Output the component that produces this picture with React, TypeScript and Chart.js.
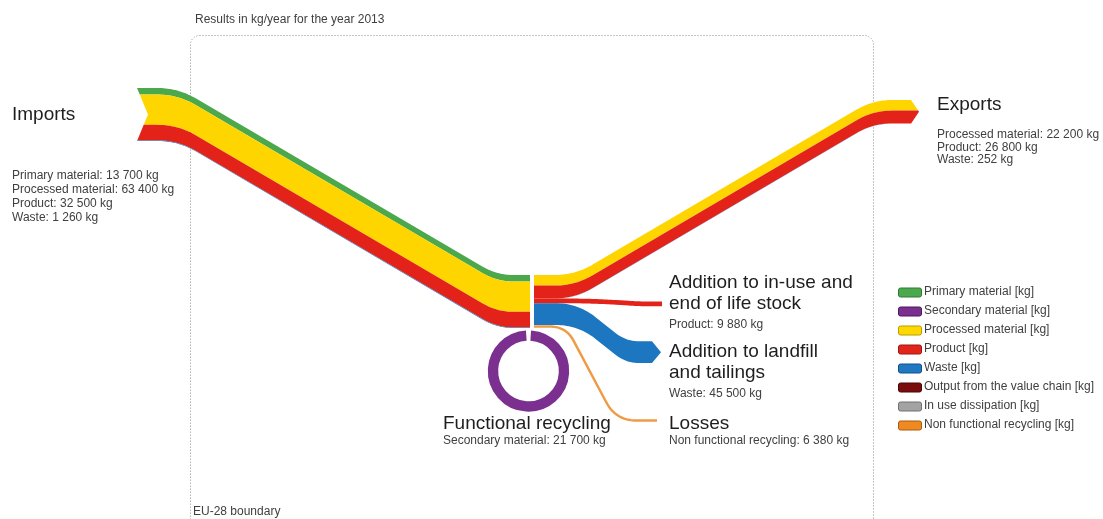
import React, { useEffect, useRef } from 'react';
import { Chart, registerables } from 'chart.js';

Chart.register(...registerables);

// ---------------- DATA ----------------
const titleText = 'Results in kg/year for the year 2013';
const boundaryText = 'EU-28 boundary';

const importCategories = ['Primary material', 'Processed material', 'Product', 'Waste'];
const importValues = [13700, 63400, 32500, 1260];

const exportCategories = ['Processed material', 'Product', 'Waste'];
const exportValues = [22200, 26800, 252];

const stockCategory = 'Product';
const stockValue = 9880;
const landfillCategory = 'Waste';
const landfillValue = 45500;
const lossesCategory = 'Non functional recycling';
const lossesValue = 6380;
const recyclingCategory = 'Secondary material';
const recyclingValue = 21700;

const legendLabels = [
  'Primary material [kg]',
  'Secondary material [kg]',
  'Processed material [kg]',
  'Product [kg]',
  'Waste [kg]',
  'Output from the value chain [kg]',
  'In use dissipation [kg]',
  'Non functional recycling [kg]',
];
const legendColors = ['#4ca84c', '#7b2f8f', '#ffd800', '#e2251b', '#1f78c1', '#7a0c0c', '#a3a3a3', '#ef8a22'];
const legendBorders = ['#2f7d32', '#4d1a5c', '#b89c00', '#9c1710', '#12508a', '#4a0505', '#707070', '#a85a10'];

const flowColors: Record<string, string> = {
  'Primary material': '#4ca84c',
  'Secondary material': '#7b2f8f',
  'Processed material': '#ffd500',
  'Product': '#e3231a',
  'Waste': '#1c76c0',
  'Non functional recycling': '#ef9a45',
};

// ---------------- LAYOUT (chart units) ----------------
const W = 1103;
const H = 519;
const FONT = '"Liberation Sans", Arial, sans-serif';
const KG_TO_UNITS = 53 / 110860; // vertical band thickness per kg
const IMPORT_ROUTE: number[][] = [[137, 88], [178, 88], [497, 275], [530, 275]];
const EXPORT_ROUTE: number[][] = [[534, 275], [575, 275], [873, 100], [911, 100]];
const STOCK_ROUTE: number[][] = [[534, 0], [592, 0], [640, 3], [662, 3]];
const LANDFILL_ROUTE: number[][] = [[534, 0], [578, 0], [626, 38], [652, 38]];
const LOSSES_ROUTE: number[][] = [[534, 0], [566, 0], [616, 94], [657, 94]];
const RING = { cx: 528.5, cy: 371, r: 35.5 };

function roundedPath(pts: number[][], r: number): number[][] {
  const out: number[][] = [pts[0]];
  for (let i = 1; i < pts.length - 1; i++) {
    const [px, py] = pts[i - 1];
    const [cx, cy] = pts[i];
    const [nx, ny] = pts[i + 1];
    const d1 = Math.hypot(cx - px, cy - py);
    const d2 = Math.hypot(nx - cx, ny - cy);
    const rr = Math.min(r, d1 / 2, d2 / 2);
    const ax = cx - ((cx - px) / d1) * rr, ay = cy - ((cy - py) / d1) * rr;
    const bx = cx + ((nx - cx) / d2) * rr, by = cy + ((ny - cy) / d2) * rr;
    for (let k = 0; k <= 20; k++) {
      const t = k / 20;
      const u = 1 - t;
      out.push([u * u * ax + 2 * u * t * cx + t * t * bx, u * u * ay + 2 * u * t * cy + t * t * by]);
    }
  }
  out.push(pts[pts.length - 1]);
  return out;
}

const sankeyPlugin = {
  id: 'sankeyFlows',
  afterDraw(chart: any) {
    const ctx: CanvasRenderingContext2D = chart.ctx;
    const xs = chart.scales.x;
    const ys = chart.scales.y;
    const X = (v: number) => xs.getPixelForValue(v);
    const Y = (v: number) => ys.getPixelForValue(v);

    const drawBand = (
      route: number[][], radius: number, o1: number, o2: number, total: number, color: string,
      notch = 0, tip = 0,
    ) => {
      const path = roundedPath(route, radius);
      const top = path.map(([x, y]) => [x, y + o1]);
      const bot = path.map(([x, y]) => [x, y + o2]).reverse();
      const half = total / 2;
      const f = (o: number) => 1 - Math.abs(o - half) / half;
      const x0 = route[0][0], y0 = route[0][1];
      const xe = route[route.length - 1][0], ye = route[route.length - 1][1];
      if (notch) {
        top[0] = [x0 + notch * f(o1), top[0][1]];
        bot[bot.length - 1] = [x0 + notch * f(o2), bot[bot.length - 1][1]];
      }
      const poly: number[][] = [];
      poly.push(...top);
      if (tip) {
        poly[poly.length - 1] = [xe + tip * f(o1), poly[poly.length - 1][1]];
        if (o1 < half && o2 > half) poly.push([xe + tip, ye + half]);
        bot[0] = [xe + tip * f(o2), bot[0][1]];
      }
      poly.push(...bot);
      if (notch && o1 < half && o2 > half) poly.push([x0 + notch, y0 + half]);
      ctx.beginPath();
      poly.forEach(([x, y], i) => (i ? ctx.lineTo(X(x), Y(y)) : ctx.moveTo(X(x), Y(y))));
      ctx.closePath();
      ctx.fillStyle = color;
      ctx.fill();
    };

    ctx.save();
    // boundary
    ctx.strokeStyle = '#8c8c8c';
    ctx.lineWidth = 1;
    ctx.setLineDash([1, 2]);
    ctx.beginPath();
    ctx.roundRect(X(190) + 0.5, Y(35) + 0.5, X(873) - X(190), Y(560) - Y(35), 9);
    ctx.stroke();
    ctx.setLineDash([]);

    // imports
    const impTotal = importValues.reduce((a, b) => a + b, 0) * KG_TO_UNITS;
    let off = 0;
    importValues.forEach((v, i) => {
      const t = v * KG_TO_UNITS;
      drawBand(IMPORT_ROUTE, 26, off, off + t, impTotal, flowColors[importCategories[i]], 11, 0);
      off += t;
    });

    // exports
    const expTotal = exportValues.reduce((a, b) => a + b, 0) * KG_TO_UNITS;
    off = 0;
    exportValues.forEach((v, i) => {
      const t = v * KG_TO_UNITS;
      drawBand(EXPORT_ROUTE, 26, off, off + t, expTotal, flowColors[exportCategories[i]], 0, 8);
      off += t;
    });
    let stackY = EXPORT_ROUTE[0][1] + expTotal;

    // stock
    const stT = stockValue * KG_TO_UNITS;
    drawBand(STOCK_ROUTE.map(([x, y]) => [x, y + stackY]), 30, 0, stT, stT, flowColors[stockCategory]);
    stackY += stT;

    // landfill
    const lfT = landfillValue * KG_TO_UNITS;
    drawBand(LANDFILL_ROUTE.map(([x, y]) => [x, y + stackY]), 34, 0, lfT, lfT, flowColors[landfillCategory], 0, 9);
    stackY += lfT;

    // losses (thin stroke)
    const lsT = lossesValue * KG_TO_UNITS;
    const lp = roundedPath(LOSSES_ROUTE.map(([x, y]) => [x, y + stackY + lsT / 2]), 40);
    ctx.beginPath();
    lp.forEach(([x, y], i) => (i ? ctx.lineTo(X(x), Y(y)) : ctx.moveTo(X(x), Y(y))));
    ctx.strokeStyle = flowColors[lossesCategory];
    ctx.lineWidth = Math.max(2, Y(lsT) - Y(0)) * 0.8;
    ctx.stroke();

    // functional recycling ring
    const rcT = recyclingValue * KG_TO_UNITS;
    const gap = 2.2 / RING.r;
    ctx.beginPath();
    ctx.arc(X(RING.cx), Y(RING.cy), X(RING.r) - X(0), -Math.PI / 2 + gap, -Math.PI / 2 - gap + Math.PI * 2);
    ctx.strokeStyle = flowColors[recyclingCategory];
    ctx.lineWidth = Y(rcT) - Y(0);
    ctx.stroke();

    // texts
    const text = (s: string, x: number, y: number, size: number, color: string) => {
      ctx.font = `${size}px ${FONT}`;
      ctx.fillStyle = color;
      ctx.textBaseline = 'middle';
      ctx.textAlign = 'left';
      ctx.fillText(s, X(x), Y(y));
    };
    const fmt = (n: number) => String(n).replace(/\B(?=(\d{3})+(?!\d))/g, ' ');
    const big = '#1e1e1e';
    const small = '#404040';
    const S = 12;

    text(titleText, 195, 20, S, small);
    text(boundaryText, 193, 512, S, small);

    text('Imports', 12, 115, 19, big);
    importCategories.forEach((c, i) => text(`${c}: ${fmt(importValues[i])} kg`, 12, 176 + i * 13.8, S, small));

    text('Exports', 937, 105, 19, big);
    exportCategories.forEach((c, i) => text(`${c}: ${fmt(exportValues[i])} kg`, 937, 135 + i * 12.4, S, small));

    text('Addition to in-use and', 669, 283, 19, big);
    text('end of life stock', 669, 304, 19, big);
    text(`${stockCategory}: ${fmt(stockValue)} kg`, 669, 325, S, small);

    text('Addition to landfill', 669, 352, 19, big);
    text('and tailings', 669, 373, 19, big);
    text(`${landfillCategory}: ${fmt(landfillValue)} kg`, 669, 394, S, small);

    text('Losses', 669, 424, 19, big);
    text(`${lossesCategory}: ${fmt(lossesValue)} kg`, 669, 441, S, small);

    text('Functional recycling', 443, 424, 19, big);
    text(`${recyclingCategory}: ${fmt(recyclingValue)} kg`, 443, 441, S, small);

    // legend
    legendLabels.forEach((l, i) => {
      const cy = 292 + i * 19;
      ctx.beginPath();
      ctx.roundRect(X(898) + 0.5, Y(cy - 4.5) + 0.5, X(921) - X(898), Y(cy + 4.5) - Y(cy - 4.5), 2);
      ctx.fillStyle = legendColors[i];
      ctx.fill();
      ctx.strokeStyle = legendBorders[i];
      ctx.lineWidth = 1;
      ctx.stroke();
      text(l, 924, cy, S, small);
    });
    ctx.restore();
  },
};

export default function App() {
  const ref = useRef<HTMLCanvasElement | null>(null);
  useEffect(() => {
    document.body.style.margin = '0';
    document.body.style.overflow = 'hidden';
    if (!ref.current) return;
    const chart = new Chart(ref.current, {
      type: 'scatter',
      data: { datasets: [{ data: [] }] },
      options: {
        animation: false,
        responsive: false,
        maintainAspectRatio: false,
        layout: { padding: 0 },
        plugins: { legend: { display: false }, tooltip: { enabled: false }, title: { display: false } },
        scales: {
          x: { type: 'linear', min: 0, max: W, display: false },
          y: { type: 'linear', min: 0, max: H, reverse: true, display: false },
        },
      },
      plugins: [sankeyPlugin],
    });
    return () => chart.destroy();
  }, []);
  return (
    <div style={{ width: W, height: H, background: '#fff' }}>
      <canvas ref={ref} width={W} height={H} style={{ display: 'block', width: W, height: H }} />
    </div>
  );
}
